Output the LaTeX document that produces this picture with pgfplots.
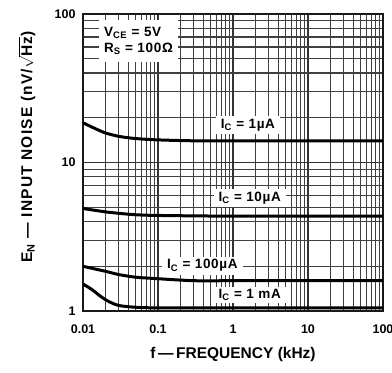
\documentclass[border=0pt]{standalone}
\usepackage{fontspec}
\setmainfont{Liberation Sans}
\usepackage{pgfplots}
\pgfplotsset{compat=1.18}
\newcommand{\lab}{\fontsize{13.5}{15}\selectfont\bfseries\addfontfeatures{LetterSpace=5}}
\begin{document}
\begin{tikzpicture}
\begin{loglogaxis}[
  name=ax,
  scale only axis, width=300pt, height=297pt,
  xmin=0.01, xmax=100, ymin=1, ymax=100,
  xtick={0.01,0.1,1,10,100}, xticklabels={0.01,0.1,1,10,100},
  ytick={1,10,100}, yticklabels={1,10,100},
  minor xtick={0.02,0.03,0.04,0.05,0.06,0.07,0.08,0.09,0.2,0.3,0.4,0.5,0.6,0.7,0.8,0.9,2,3,4,5,6,7,8,9,20,30,40,50,60,70,80,90},
  minor ytick={2,3,4,5,6,7,8,9,20,30,40,50,60,70,80,90},
  grid=both,
  major grid style={line width=1.3pt, black!80},
  minor grid style={line width=1.2pt, black!75},
  axis line style={line width=2.4pt, black!90},
  tick style={draw=none},
  ticklabel style={font=\fontsize{12.5}{14}\selectfont\bfseries},
  xticklabel style={yshift=-10pt},
  yticklabel style={xshift=-4pt},
  xlabel={f\,—\,FREQUENCY (kHz)},
  ylabel={\addfontfeatures{LetterSpace=8}E\textsubscript{N} — INPUT NOISE (nV/$\sqrt{\mbox{\bfseries Hz}}$)},
  label style={font=\fontsize{15.5}{17}\selectfont\bfseries},
  xlabel style={anchor=center, at={(axis description cs:0.5,-0.148)}},
  ylabel style={anchor=center, at={(axis description cs:-0.187,0.552)}},
]
\addplot[black, line width=3pt, smooth] coordinates {(0.01,18.5) (0.015,16.8) (0.02,15.8) (0.03,15) (0.05,14.5) (0.1,14.2) (0.3,14) (1,14) (10,14) (100,14)};
\addplot[black, line width=3pt, smooth] coordinates {(0.01,4.9) (0.02,4.65) (0.03,4.55) (0.05,4.45) (0.1,4.4) (1,4.35) (10,4.35) (100,4.35)};
\addplot[black, line width=3pt, smooth] coordinates {(0.01,2.0) (0.02,1.85) (0.03,1.76) (0.05,1.69) (0.1,1.65) (0.3,1.6) (1,1.6) (10,1.6) (100,1.6)};
\addplot[black, line width=3pt, smooth] coordinates {(0.01,1.52) (0.013,1.4) (0.017,1.26) (0.022,1.16) (0.03,1.09) (0.05,1.06) (0.1,1.05) (1,1.05) (10,1.05) (100,1.05)};
\node[fill=white, align=left, inner xsep=5pt, inner ysep=7pt, font=\lab] at (axis cs:0.055,66) {V\textsubscript{CE} = 5V\\[1pt]R\textsubscript{S} = 100Ω};
\node[fill=white, inner xsep=5pt, inner ysep=3pt, font=\lab] at (axis cs:1.58,17.9) {I\textsubscript{C} = 1µA};
\node[fill=white, inner xsep=5pt, inner ysep=3pt, font=\lab] at (axis cs:1.67,5.77) {I\textsubscript{C} = 10µA};
\node[fill=white, inner xsep=5pt, inner ysep=3pt, font=\lab] at (axis cs:0.39,2.02) {I\textsubscript{C} = 100µA};
\node[fill=white, inner xsep=8pt, inner ysep=2pt, font=\lab] at (axis cs:1.67,1.28) {I\textsubscript{C} = 1 mA};
\end{loglogaxis}
\pgfresetboundingbox
\path[use as bounding box] ([xshift=-83pt,yshift=-61pt]ax.south west) rectangle ([xshift=9pt,yshift=14pt]ax.north east);
\end{tikzpicture}
\end{document}
